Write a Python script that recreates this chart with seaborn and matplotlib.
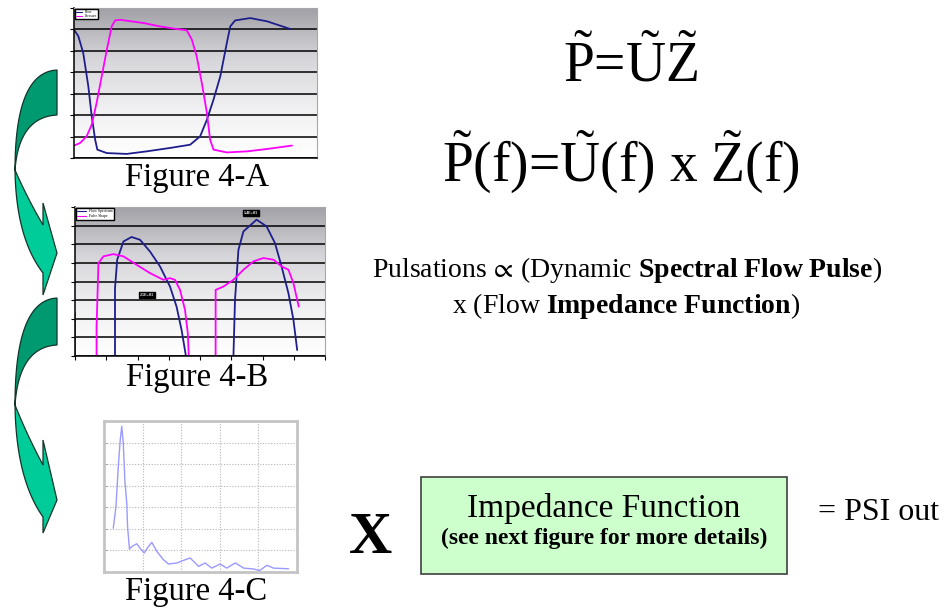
import numpy as np
import pandas as pd
import matplotlib.pyplot as plt
import seaborn as sns
from matplotlib.patches import Polygon, Rectangle
from matplotlib.lines import Line2D
from matplotlib.colors import LinearSegmentedColormap

sns.set_theme(style="white")
plt.rcParams['font.family'] = ['Liberation Serif', 'DejaVu Serif']
plt.rcParams['text.color'] = 'black'
plt.rcParams['mathtext.fontset'] = 'custom'
plt.rcParams['mathtext.rm'] = 'Liberation Serif'
plt.rcParams['mathtext.it'] = 'Liberation Serif:italic'
plt.rcParams['mathtext.bf'] = 'Liberation Serif:bold'
plt.rcParams['mathtext.fallback'] = 'stix'

# Figure 4-A: flow (blue) and pressure (magenta) over one cycle
a_flow_x = [0, 1.8, 3.8, 5.9, 7.3, 8.7, 9.6, 13.5, 21.7, 29.9, 39.6, 47.8, 51.9, 54.7,
            57.4, 60.2, 62.9, 64.3, 66.3, 72.5, 79.4, 89.0]
a_flow_y = [5.99, 5.68, 4.9, 3.34, 1.94, 0.86, 0.39, 0.23, 0.19, 0.31, 0.47, 0.62, 1.01, 1.79,
            2.72, 3.81, 5.37, 6.14, 6.42, 6.53, 6.38, 6.02]
a_press_x = [0, 2.5, 5.2, 7.3, 9.3, 11.4, 13.5, 15.5, 16.9, 19.0, 28.6, 35.4, 42.3, 46.4,
             48.5, 50.5, 52.6, 54.7, 56.0, 57.4, 62.9, 71.2, 79.4, 89.7]
a_press_y = [0.58, 0.70, 1.01, 1.56, 2.57, 3.81, 5.05, 6.14, 6.42, 6.45, 6.30, 6.14, 6.02, 5.96,
             5.52, 4.74, 3.50, 2.10, 0.86, 0.39, 0.26, 0.31, 0.42, 0.58]
a_labels = ["Flow", "Pressure"]

# Figure 4-B: spectral pulses, each curve split into pieces (seg)
b_flow_seg = [0] * 12 + [1] * 11
b_flow_x = [1.28, 1.28, 1.35, 1.55, 1.81, 2.08, 2.40, 2.72, 3.04, 3.25, 3.41, 3.55,
            5.07, 5.12, 5.23, 5.39, 5.81, 6.13, 6.40, 6.61, 6.83, 6.99, 7.11]
b_flow_y = [0, 3.64, 5.17, 6.15, 6.39, 6.24, 5.61, 4.81, 3.73, 2.65, 1.40, 0,
            0, 3.01, 5.70, 6.69, 7.32, 6.96, 6.06, 4.81, 3.37, 1.94, 0.32]
b_press_seg = [0] * 2 + [1] * 15 + [2] * 12
b_press_x = [0, 0,
             0.69, 0.69, 0.75, 0.91, 1.23, 1.55, 1.97, 2.40, 2.83, 3.04, 3.20, 3.36, 3.52, 3.61, 3.64,
             4.50, 4.50, 4.75, 5.07, 5.39, 5.71, 6.03, 6.35, 6.61, 6.83, 6.99, 7.16]
b_press_y = [2.30, 0,
             0, 1.58, 4.99, 5.35, 5.47, 5.35, 4.90, 4.45, 4.09, 4.18, 4.09, 3.55, 2.48, 1.22, 0,
             0, 3.55, 3.73, 4.09, 4.63, 5.08, 5.26, 5.17, 4.81, 4.63, 3.91, 2.65]
b_labels = ["Flow Spectrum", "Pulse Shape"]
b_notes = ["5.4E+01", "2.5E+01"]
b_note_x = [5.63, 2.30]
b_note_y = [7.66, 3.28]

# Figure 4-C: frequency spectrum
c_x = [0.24, 0.31, 0.37, 0.42, 0.46, 0.50, 0.54, 0.59, 0.61, 0.66, 0.72, 0.85, 0.93, 1.04,
       1.15, 1.24, 1.37, 1.54, 1.67, 1.89, 2.15, 2.23, 2.34, 2.45, 2.62, 2.79, 3.01, 3.18,
       3.40, 3.62, 3.88, 4.03, 4.22, 4.39, 4.78]
c_y = [2.03, 3.03, 4.88, 6.11, 6.75, 5.95, 4.26, 3.18, 2.11, 1.06, 1.18, 1.31, 1.11, 0.88,
       1.18, 1.37, 0.95, 0.57, 0.37, 0.42, 0.60, 0.65, 0.46, 0.26, 0.42, 0.18, 0.37, 0.18,
       0.42, 0.18, 0.14, 0.06, 0.31, 0.18, 0.15]

BLUE = "#1e1e8c"
MAGENTA = "#ff00ff"
W, H = 947, 609

fig = plt.figure(figsize=(9.47, 6.09), dpi=100)

# full-figure layer in pixel coordinates for arrows and text
ax0 = fig.add_axes([0, 0, 1, 1])
ax0.set_xlim(0, W)
ax0.set_ylim(H, 0)
ax0.axis("off")


def px_axes(l, t, r, b):
    return fig.add_axes([l / W, 1 - b / H, (r - l) / W, (b - t) / H])


def bez(p0, c, p1, n=25):
    t = np.linspace(0, 1, n)[:, None]
    p0, c, p1 = np.array(p0), np.array(c), np.array(p1)
    return (1 - t) ** 2 * p0 + 2 * (1 - t) * t * c + t ** 2 * p1


def curved_arrow(top, inner_top, pinch, barb1, base1, tip, base2, barb2):
    upper = np.vstack([bez((57, top), (15, top + 2), (15, pinch)),
                       bez((15, pinch), (19, inner_top + 2), (57, inner_top))])
    lower = np.vstack([bez((15, pinch), (16, pinch + 0.66 * (base2 - pinch)), (43, base2)),
                       [(43, barb2), (57, tip), (43, barb1)],
                       bez((43, base1), (27, pinch + 0.5 * (base1 - pinch)), (15, pinch))])
    ax0.add_patch(Polygon(upper, closed=True, fc="#009a70", ec="#12352a", lw=0.9))
    ax0.add_patch(Polygon(lower, closed=True, fc="#00cc99", ec="#12352a", lw=0.9))


curved_arrow(70, 115, 170, 203, 225, 253, 273, 295)
curved_arrow(298, 345, 405, 440, 465, 500, 517, 533)

grad_cmap = LinearSegmentedColormap.from_list("g", ["#ffffff", "#f0f0f2", "#d6d6da", "#a0a0a6"])
grad = np.linspace(0, 1, 256).reshape(-1, 1)


def excel_panel(ax, xmax, ymax):
    ax.imshow(grad, extent=[0, xmax, 0, ymax], origin="lower", aspect="auto",
              cmap=grad_cmap, zorder=0)
    ax.set_xlim(0, xmax)
    ax.set_ylim(0, ymax)
    ax.set_yticks(range(0, ymax + 1))
    ax.grid(True, axis="y", color="black", lw=1.1)
    ax.set_axisbelow(True)
    ax.tick_params(axis="y", left=True, length=3, width=0.8, color="black", labelleft=False)
    for s in ["left", "bottom"]:
        ax.spines[s].set_color("black")
        ax.spines[s].set_linewidth(1.1)
    for s in ["top", "right"]:
        ax.spines[s].set_color("#a8a8a8")
        ax.spines[s].set_linewidth(0.8)
    ax.set_xlabel("")
    ax.set_ylabel("")


# Figure 4-A
axA = px_axes(74, 8, 317, 158)
sns.lineplot(x=a_flow_x, y=a_flow_y, ax=axA, color=BLUE, lw=1.3, sort=False, estimator=None)
sns.lineplot(x=a_press_x, y=a_press_y, ax=axA, color=MAGENTA, lw=1.3, sort=False, estimator=None)
excel_panel(axA, 100, 7)
axA.set_xticks([])
axA.legend([Line2D([], [], color=BLUE, lw=0.8), Line2D([], [], color=MAGENTA, lw=0.8)], a_labels,
           loc="upper left", bbox_to_anchor=(0, 1), borderaxespad=0.2, fontsize=2.6,
           handlelength=1.6, borderpad=0.3, labelspacing=0.1, frameon=True, fancybox=False,
           edgecolor="black", framealpha=1)

# Figure 4-B
axB = px_axes(75, 207, 325, 356)
dfb_flow = pd.DataFrame({"x": b_flow_x, "y": b_flow_y, "seg": b_flow_seg})
dfb_press = pd.DataFrame({"x": b_press_x, "y": b_press_y, "seg": b_press_seg})
sns.lineplot(data=dfb_flow, x="x", y="y", units="seg", estimator=None, sort=False,
             ax=axB, color=BLUE, lw=1.3)
sns.lineplot(data=dfb_press, x="x", y="y", units="seg", estimator=None, sort=False,
             ax=axB, color=MAGENTA, lw=1.3)
excel_panel(axB, 8, 8)
axB.set_xticks(range(0, 9))
axB.tick_params(axis="x", bottom=True, length=3, width=0.8, color="black", labelbottom=False)
axB.legend([Line2D([], [], color=BLUE, lw=0.8), Line2D([], [], color=MAGENTA, lw=0.8)], b_labels,
           loc="upper left", bbox_to_anchor=(0, 1), borderaxespad=0.25, fontsize=2.8,
           handlelength=2.2, borderpad=0.35, labelspacing=0.25, frameon=True, fancybox=False,
           edgecolor="black", framealpha=1)
for txt, nx, ny in zip(b_notes, b_note_x, b_note_y):
    axB.text(nx, ny, txt, fontsize=3, color="white", fontweight="bold", ha="center", va="center",
             bbox=dict(boxstyle="square,pad=0.25", fc="black", ec="black"), zorder=5)

# Figure 4-C
axC = px_axes(104, 421, 297, 572)
sns.lineplot(x=c_x, y=c_y, ax=axC, color="#9a9aff", lw=1.0, sort=False, estimator=None)
axC.set_xlim(0, 5)
axC.set_ylim(0, 7)
axC.set_xticks(range(1, 5))
axC.set_yticks(range(1, 7))
axC.grid(True, color="#b4b4b4", lw=0.8, ls=(0, (1, 1.5)))
axC.tick_params(left=True, length=2, width=0.6, color="#909090", direction="in",
                labelleft=False, labelbottom=False)
for s in axC.spines.values():
    s.set_color("#c4c4c4")
    s.set_linewidth(2.0)
axC.set_xlabel("")
axC.set_ylabel("")

# captions
cap = dict(fontsize=23.5, ha="center", va="center", color="black")
ax0.text(197, 178, "Figure 4-A", **cap)
ax0.text(197, 378, "Figure 4-B", **cap)
ax0.text(196, 592, "Figure 4-C", **cap)

# equations and description
ax0.text(631, 82, r"$\tilde{\mathrm{P}}$=$\tilde{\mathrm{U}}\tilde{\mathrm{Z}}$",
         fontsize=40, ha="center", va="baseline")
ax0.text(621, 182, r"$\tilde{\mathrm{P}}$(f)=$\tilde{\mathrm{U}}$(f) x $\tilde{\mathrm{Z}}$(f)",
         fontsize=40, ha="center", va="baseline")
ax0.text(627, 277, r"Pulsations $\!\propto\!$ (Dynamic $\mathbf{Spectral\ Flow\ Pulse}$)",
         fontsize=20, ha="center", va="baseline")
ax0.text(626, 313, r"x (Flow $\mathbf{Impedance\ Function}$)",
         fontsize=20, ha="center", va="baseline")

# bottom row
ax0.text(371, 553, "X", fontsize=43, fontweight="bold", ha="center", va="baseline")
ax0.add_patch(Rectangle((421, 477), 366, 97, fc="#ccffcc", ec="#404040", lw=1.2))
ax0.text(604, 517, "Impedance Function", fontsize=24, ha="center", va="baseline")
ax0.text(604, 544, "(see next figure for more details)", fontsize=17, fontweight="bold",
         ha="center", va="baseline")
ax0.text(879, 520, "= PSI out", fontsize=23, ha="center", va="baseline")

fig.savefig("out.png", dpi=100)
